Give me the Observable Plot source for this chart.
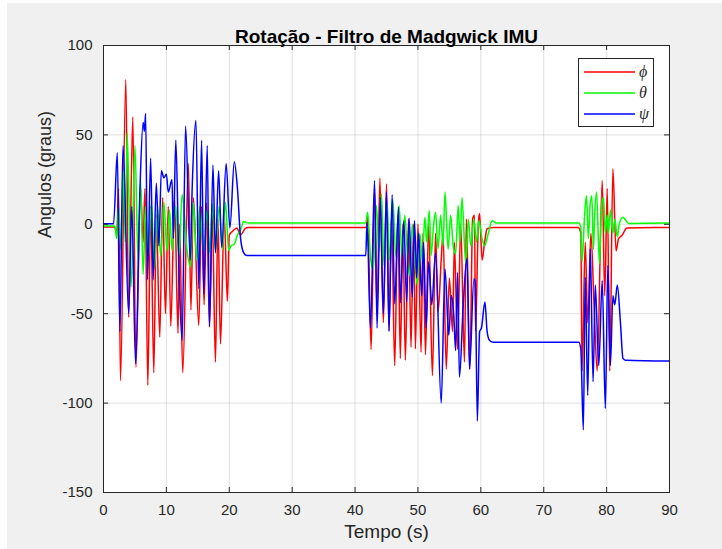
<!DOCTYPE html>
<html><head><meta charset="utf-8">
<script src="https://cdn.jsdelivr.net/npm/d3@7"></script>
<script src="https://cdn.jsdelivr.net/npm/@observablehq/plot@0.6"></script>
<style>
body{margin:0;background:#fff;}
#wrap{position:relative;width:722px;height:549px;overflow:hidden;}
#bg{position:absolute;left:7px;top:3px;right:0;bottom:0;background:#f0f0f0;}
#chart{position:absolute;left:0;top:0;}
#legend{position:absolute;left:578px;top:58px;width:76px;height:69px;background:#fff;border:1px solid #262626;box-sizing:border-box;}
</style></head>
<body><div id="wrap"><div id="bg"></div><div id="chart"></div><div id="legend"></div></div>
<script>
const title = "Rotação - Filtro de Madgwick IMU";
const xLabel = "Tempo (s)";
const yLabel = "Angulos (graus)";
const seriesNames = ["ϕ", "θ", "ψ"];
const seriesColors = ["#ff0000", "#00ff00", "#0000ff"];
const xTicks = [0, 10, 20, 30, 40, 50, 60, 70, 80, 90];
const yTicks = [-150, -100, -50, 0, 50, 100];

// phi (red)
const phiT = [0,1.8,2.1,2.4,2.7,3.55,4.0,4.66,5.15,5.9,6.3,6.6,7.05,7.5,8.0,8.4,8.95,9.4,9.85,10.3,10.7,11.3,11.85,12.1,12.6,13.5,13.9,14.3,15.15,15.6,16.0,16.4,16.85,17.3,17.8,18.2,18.6,19.2,19.7,20.0,20.5,21.2,21.8,22.5,23,41.8,
  42.0,42.55,43.1,43.5,43.95,44.5,45.0,45.4,45.8,46.3,46.8,47.2,47.6,48.0,48.5,48.9,49.3,49.6,50.0,50.5,50.8,51.2,51.7,52.3,52.8,53.2,53.7,54.0,54.5,55.0,55.5,55.8,56.3,56.8,57.4,57.7,58.25,58.7,59.0,59.15,59.6,59.8,60.2,60.6,61.0,61.5,62,75.5,
  75.9,76.1,76.6,77.0,77.5,78.0,78.5,79.3,79.7,80.1,80.5,81.0,81.5,81.9,82.5,83.2,90];
const phiV = [-1.5,-1.5,-6,20,-87.5,81,-52,60,-80,20,-10,20,-90,10,-83,5,-63,15,-50,10,-57,15,-61,0,-83,34,-48,15,-56.6,10,-45,12,-57.5,5,-77,3,-67,5,-43,-6,-4,-2,-6,-2.5,-1.8,-1.8,
  5,-70,20,-50,25.8,-55,22.6,-59.4,5,-79,5,-75,0,-76,3,-68.7,0,-69.7,0,-71.5,-5,-73,0,-84.6,-5,-49,-20,-5,-81,-30,-60,-10,-70,0,-77,3,-81,3,5,-60,0,6,-20,-10,-2.5,-2,-1.8,-1.8,
  -5,-82,-10,-55,-5,-45,-82,24.5,-40,20,-82,31,-15,-8,-6,-2,-1.8];

// theta (green)
const thetaT = [0,1.8,2.1,2.4,2.8,3.2,3.45,3.76,4.4,5.0,5.5,5.9,6.3,6.7,7.1,7.6,8.1,8.6,9.1,9.6,10.1,10.5,10.9,11.5,12.0,12.5,13.3,13.8,14.3,14.8,15.3,15.9,16.5,16.9,17.3,17.8,18.4,18.9,19.4,19.9,20.3,20.8,21.3,21.8,22.3,23,41.7,
  42.0,42.5,42.9,43.4,43.8,44.2,44.6,45.1,45.5,46.0,46.5,47.0,47.5,47.9,48.3,48.7,49.1,49.5,49.9,50.3,50.7,51.1,51.4,51.8,52.1,52.5,52.8,53.2,53.6,54.0,54.3,54.8,55.2,55.6,56.0,56.4,56.7,57.0,57.6,58.0,58.4,58.9,59.3,59.7,60.2,60.6,61.2,61.8,62.5,75.6,
  75.9,76.1,76.5,76.8,77.1,77.35,77.65,77.9,78.1,78.4,78.85,79.2,79.5,79.8,80.1,80.3,80.6,81.0,81.3,81.7,82.0,82.6,83.0,83.5,90];
const thetaV = [-1,-1,-8,10,-15,30,-10,51,-35,44,-20,24.5,-28,10,-20,12,-25,10,-18,12.4,-15,8,-14.7,10,-18,16.7,-15,-24,12,-20,10,-15,8,-16,11.6,-15,10,-14,12.4,-14.7,-12,-11,-6,-3,1.5,0.7,0.7,
  6.8,-20,-25,10.5,-15,17,-23,12,-20,14,-18,10.5,-20,5,-15,-28.6,0,-20,-34,-5,-20,4,-10,7.7,-17.5,0,6.8,-13.7,5,-12,18,-14,5,-12,-16.5,10.5,-10,15,-22,3,-12,3,-10,2,-8,-12,-5,2,0.7,0.7,
  -2,-21,5,16,-8,10,16,-14,5,18,-22,10,15,-5,5,-5,8,-5,3,-7,0,4,2.5,0.5,0.7];

// psi (blue)
const psiT = [0,1.6,2.2,2.6,3.1,4.0,4.5,5.1,5.8,6.3,6.5,6.7,7.0,7.5,7.9,8.4,8.8,9.2,9.6,10.0,10.3,10.9,11.1,11.5,12.0,12.5,13.05,13.8,14.1,14.7,15.15,15.6,15.95,16.5,16.85,17.4,17.8,18.3,18.8,19.5,20.1,20.8,21.3,21.8,22.3,22.8,41.7,
  41.9,42.45,43.1,43.5,44.0,44.5,45.0,45.4,45.9,46.3,46.9,47.2,47.75,48.2,48.6,49.1,49.45,49.8,50.1,50.6,50.9,51.3,51.7,52.2,52.8,53.7,54.3,54.9,55.3,55.7,56.0,56.3,56.6,57.2,57.8,58.2,58.9,59.1,59.45,59.8,60.1,60.65,61.0,61.4,62.0,75.6,
  75.9,76.3,76.6,77.0,77.4,77.85,78.2,78.75,79.3,79.8,80.2,80.6,81.0,81.3,81.7,82.2,82.6,83.0,90];
const psiV = [0.3,0.3,40,-60,44,-50,10,-78,20,57,52,62,-31,37,-31,23,-12,30,26,28,18,25,-8,47,-26,-65,55,-20,20,58,-36,47,-39,44,-57,33,-16,30,-13,34,-2,35,20,-8,-16,-17.5,-17.5,
  1,-58,24.5,-58,15,-50,18,-60,16.5,-44.5,9.6,-44,2,-43.5,3.4,-40.7,2,-30,-5,-40,-10,-58,-21,-45,-16,-100,-25,-62,-40,-51,-70.6,-27,-85.5,-45,-19,-81,-30.5,-32,-110,-60,-58,-43.5,-60,-65,-66,-66,
  -70,-115,-29.6,-95.7,-13.7,-88,-34,-79,-31.4,-103,-23,-79,-40,-45,-34,-55,-75,-76,-76.5];

const series = [
  {name: seriesNames[0], color: seriesColors[0], t: phiT, v: phiV},
  {name: seriesNames[1], color: seriesColors[1], t: thetaT, v: thetaV},
  {name: seriesNames[2], color: seriesColors[2], t: psiT, v: psiV}
];

const font = "'Liberation Sans', Arial, Helvetica, sans-serif";
const axisColor = "#262626";

const chart = Plot.plot({
  width: 722, height: 549,
  marginLeft: 103, marginRight: 53, marginTop: 45, marginBottom: 57,
  style: {background: "transparent", fontFamily: font, color: axisColor},
  x: {domain: [0, 90]},
  y: {domain: [-150, 100]},
  marks: [
    Plot.frame({fill: "white"}),
    Plot.gridX(xTicks, {stroke: axisColor, strokeOpacity: 0.15}),
    Plot.gridY(yTicks, {stroke: axisColor, strokeOpacity: 0.15}),
    ...series.map(s => Plot.line(s.t.map((t, i) => ({t, v: s.v[i]})), {x: "t", y: "v", stroke: s.color, strokeWidth: 1.5, curve: "monotone-x"})),
    Plot.frame({stroke: axisColor, strokeWidth: 1}),
    Plot.tickX(xTicks, {x: d => d, insetTop: 442, stroke: axisColor}),
    Plot.tickX(xTicks, {x: d => d, insetBottom: 442, stroke: axisColor}),
    Plot.tickY(yTicks, {y: d => d, insetRight: 561, stroke: axisColor}),
    Plot.tickY(yTicks, {y: d => d, insetLeft: 561, stroke: axisColor}),
    Plot.axisX(xTicks, {tickSize: 0, tickPadding: 12, fontSize: 15, label: null, fill: axisColor, tickFormat: d => String(d)}),
    Plot.axisY(yTicks, {tickSize: 0, tickPadding: 11, fontSize: 15, label: null, fill: axisColor, tickFormat: d => String(d)}),
    Plot.text([title], {frameAnchor: "top", dy: -16, fontSize: 19, fontWeight: "bold", fill: "#000"}),
    Plot.text([xLabel], {frameAnchor: "bottom", dy: 45, fontSize: 19, fill: axisColor}),
    Plot.text([yLabel], {frameAnchor: "left", dx: -58, dy: -31, rotate: -90, fontSize: 18, fill: axisColor})
  ]
});
document.getElementById("chart").appendChild(chart);

// legend
const ns = "http://www.w3.org/2000/svg";
const lsvg = document.createElementNS(ns, "svg");
lsvg.setAttribute("width", 74); lsvg.setAttribute("height", 67);
const ys = [13, 34, 55];
series.forEach((s, i) => {
  const l = document.createElementNS(ns, "line");
  l.setAttribute("x1", 5); l.setAttribute("x2", 56);
  l.setAttribute("y1", ys[i]); l.setAttribute("y2", ys[i]);
  l.setAttribute("stroke", s.color); l.setAttribute("stroke-width", 1.5);
  lsvg.appendChild(l);
  const t = document.createElementNS(ns, "text");
  t.setAttribute("x", 60); t.setAttribute("y", ys[i] + 5);
  t.setAttribute("font-family", "'Liberation Serif', 'DejaVu Serif', serif");
  t.setAttribute("font-style", "italic");
  t.setAttribute("font-size", 16);
  t.setAttribute("fill", "#262626");
  t.textContent = s.name;
  lsvg.appendChild(t);
});
document.getElementById("legend").appendChild(lsvg);
</script>
</body></html>
